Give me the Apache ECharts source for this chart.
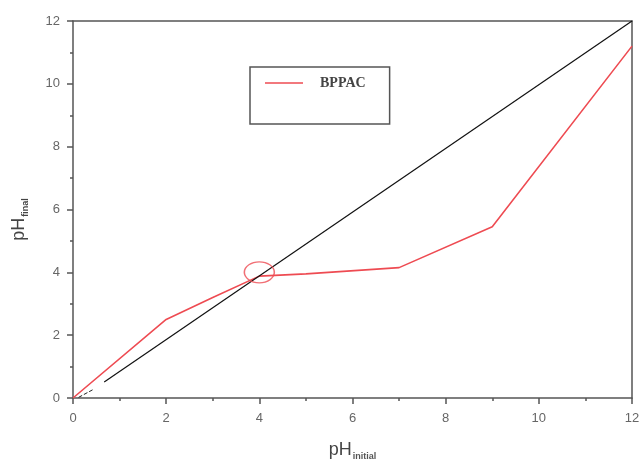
<!DOCTYPE html>
<html>
<head>
<meta charset="utf-8">
<script src="https://cdn.jsdelivr.net/npm/echarts@6/dist/echarts.min.js"></script>
<style>html,body{margin:0;padding:0;background:#fff;}#c{width:643px;height:459px;}</style>
</head>
<body>
<div id="c"></div>
<script>
const xTicks = [0, 2, 4, 6, 8, 10, 12];
const yTicks = [0, 2, 4, 6, 8, 10, 12];
const bppacX = [0, 2, 3, 4, 5, 7, 9, 12];
const bppacY = [0, 2.5, 3.2, 3.88, 3.95, 4.15, 5.45, 11.2];
const refX = [0.67, 12];
const refY = [0.51, 12];
const smallX = [0.12, 0.42];
const smallY = [0.02, 0.26];
const markX = [4];
const markY = [4.0];

const zip = (a, b) => a.map((v, i) => [v, b[i]]);
const axisCol = '#555';
const red = '#ee4b52';
const chart = echarts.init(document.getElementById('c'));
chart.setOption({
  animation: false,
  backgroundColor: '#fff',
  grid: { left: 73, right: 11, top: 21, bottom: 61, containLabel: false, outerBoundsMode: 'none' },
  legend: {
    data: [{ name: 'BPPAC', icon: 'path://M0,0 H40 V1.7 H0 Z' }],
    left: 250, top: 67,
    padding: [9, 24, 34, 15],
    borderColor: '#555', borderWidth: 1.5,
    itemWidth: 38, itemHeight: 14, itemGap: 10,
    textStyle: { fontFamily: 'Liberation Serif', fontWeight: 'bold', fontSize: 14, color: '#444', padding: [0, 0, 0, 12] }
  },
  xAxis: [{
    type: 'value', min: 0, max: 12, interval: 2,
    name: '{a|pH}{b|initial}', nameLocation: 'middle', nameGap: 42,
    nameTextStyle: { rich: {
      a: { fontSize: 18, color: '#444', fontFamily: 'Liberation Sans' },
      b: { fontSize: 9, color: '#555', fontFamily: 'Liberation Sans', fontWeight: 'bold', padding: [12, 0, 0, 1] }
    } },
    axisLine: { show: true, lineStyle: { color: axisCol, width: 1.5 } },
    axisTick: { show: true, length: 6, lineStyle: { color: axisCol, width: 1.5 } },
    minorTick: { show: true, splitNumber: 2, length: 3, lineStyle: { color: axisCol, width: 1.5 } },
    axisLabel: { color: '#666', fontSize: 13, margin: 14, fontFamily: 'Liberation Sans' },
    splitLine: { show: false }
  }, {
    type: 'value', min: 0, max: 12, position: 'top',
    axisLine: { show: true, onZero: false, lineStyle: { color: axisCol, width: 1.5 } },
    axisTick: { show: false }, axisLabel: { show: false }, splitLine: { show: false }
  }],
  yAxis: [{
    type: 'value', min: 0, max: 12, interval: 2,
    name: '{a|pH}{b|final}', nameLocation: 'middle', nameGap: 43, nameRotate: 90,
    nameTextStyle: { padding: [0, 0, 0, -20], rich: {
      a: { fontSize: 18, color: '#444', fontFamily: 'Liberation Sans' },
      b: { fontSize: 9, color: '#444', fontFamily: 'Liberation Sans', fontWeight: 'bold', padding: [12, 0, 0, 1] }
    } },
    axisLine: { show: true, lineStyle: { color: axisCol, width: 1.5 } },
    axisTick: { show: true, length: 6, lineStyle: { color: axisCol, width: 1.5 } },
    minorTick: { show: true, splitNumber: 2, length: 3, lineStyle: { color: axisCol, width: 1.5 } },
    axisLabel: { color: '#666', fontSize: 13, margin: 13, fontFamily: 'Liberation Sans' },
    splitLine: { show: false }
  }, {
    type: 'value', min: 0, max: 12, position: 'right',
    axisLine: { show: true, onZero: false, lineStyle: { color: axisCol, width: 1.5 } },
    axisTick: { show: false }, axisLabel: { show: false }, splitLine: { show: false }
  }],
  series: [{
    name: 'ref', type: 'line', data: zip(refX, refY), symbol: 'none',
    lineStyle: { color: '#111', width: 1.2 }, z: 3
  }, {
    name: 'small', type: 'line', data: zip(smallX, smallY), symbol: 'none',
    lineStyle: { color: '#222', width: 1, type: 'dashed' }, z: 3
  }, {
    name: 'BPPAC', type: 'line', data: zip(bppacX, bppacY), symbol: 'none',
    color: red, lineStyle: { color: red, width: 1.6 }, itemStyle: { color: red }, z: 2
  }, {
    name: 'mark', type: 'scatter', data: zip(markX, markY), symbol: 'circle', symbolSize: [30, 21],
    itemStyle: { color: 'rgba(0,0,0,0)', borderColor: red, borderWidth: 1.3 }, z: 4
  }]
});
</script>
</body>
</html>
